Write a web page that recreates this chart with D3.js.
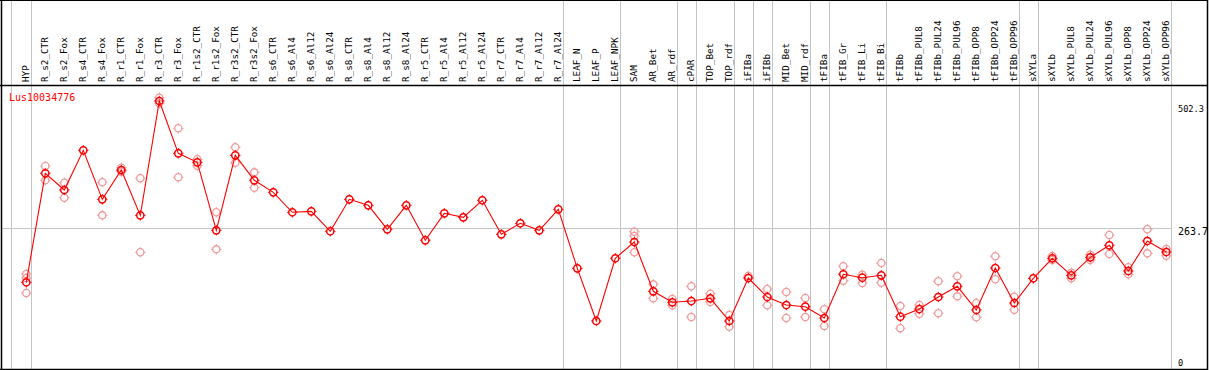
<!DOCTYPE html>
<html><head><meta charset="utf-8">
<script src="https://cdn.jsdelivr.net/npm/d3@7"></script>
<style>body{margin:0;background:#fff}svg{display:block}</style>
</head><body>
<svg id="c" width="1209" height="370"></svg>
<script>
const geneName = "Lus10034776";
const categories = ["HYP","R_s2_CTR","R_s2_Fox","R_s4_CTR","R_s4_Fox","R_r1_CTR","R_r1_Fox","R_r3_CTR","R_r3_Fox","R_r1s2_CTR","R_r1s2_Fox","R_r3s2_CTR","R_r3s2_Fox","R_s6_CTR","R_s6_Al4","R_s6_Al12","R_s6_Al24","R_s8_CTR","R_s8_Al4","R_s8_Al12","R_s8_Al24","R_r5_CTR","R_r5_Al4","R_r5_Al12","R_r5_Al24","R_r7_CTR","R_r7_Al4","R_r7_Al12","R_r7_Al24","LEAF_N","LEAF_P","LEAF_NPK","SAM","AR_Bet","AR_rdf","cPAR","TOP_Bet","TOP_rdf","iFIBa","iFIBb","MID_Bet","MID_rdf","tFIBa","tFIB_Gr","tFIB_Li","tFIB_Bi","tFIBb","tFIBb_PUL8","tFIBb_PUL24","tFIBb_PUL96","tFIBb_OPP8","tFIBb_OPP24","tFIBb_OPP96","sXYLa","sXYLb","sXYLb_PUL8","sXYLb_PUL24","sXYLb_PUL96","sXYLb_OPP8","sXYLb_OPP24","sXYLb_OPP96"];
const means = [162.5,366.8,335.5,409.9,318.0,372.9,288.0,502.3,404.2,387.4,259.9,400.5,353.6,331.1,293.7,295.5,258.1,318.0,306.8,261.8,306.8,241.2,291.8,284.3,316.2,252.4,273.1,259.9,299.3,188.7,90.0,207.5,238.0,145.6,125.0,127.4,132.5,90.0,170.5,134.9,119.9,116.8,95.6,177.5,171.1,175.6,98.0,112.4,134.9,155.0,110.6,189.3,123.7,170.0,207.5,175.6,209.3,231.8,183.7,239.9,219.3];
const replicates = [
 [178.0,170.5,142.4],[380.4,353.6],[349.1,321.0],[],[349.9,288.0],[377.2,369.8],[357.4,218.7],[508.4,497.9],[451.1,359.3],[393.0,381.0],[293.7,224.3],[415.5,386.6],[368.6,339.8],
 [],[],[],[],[],[],[],[],[],[],[],[],[],[],[],[],[],[],[],
 [257.3,249.3,218.7],[158.7,132.5],[131.2,119.4],[155.0,97.5],[141.1,125.6],[101.2,79.3],[174.3],[149.9,119.4],[144.3,95.6],[133.1,97.5],[111.9,80.6],[192.5,165.5],[176.7,161.2],[198.7,161.7],
 [118.1,76.3],[119.9,103.6],[164.4,104.4],[173.7,136.2],[123.7,96.9],[211.2,168.1],[135.5,111.1],[],[211.8,204.3],[180.5,170.0],[214.2,204.3],[251.1,215.5],[190.6,177.5],[261.8,216.8],[224.9,212.3]
];
const groupEnds = ["HYP","R_r7_Al24","LEAF_NPK","AR_rdf","cPAR","TOP_rdf","iFIBa","iFIBb","MID_rdf","tFIBa","tFIB_Bi","tFIBb_OPP96","sXYLa","sXYLb_OPP96"];
const yTicks = [502.3, 263.7, 0];

const svg = d3.select("#c");
const W = 1209, H = 370, headerY = 85, bottom = 369;
const x = d3.scalePoint().domain(categories).range([26.3, 1166.3]);
const y = d3.scaleLinear().domain([0, 502.3]).range([bottom, 101]);

// group separators
const seps = [x(categories[0]) - 15.8].concat(groupEnds.map(c => x(c) + 4.4));
svg.selectAll("line.sep").data(seps).enter().append("line")
  .attr("x1", d => Math.round(d) + 0.5).attr("x2", d => Math.round(d) + 0.5)
  .attr("y1", 0).attr("y2", H).attr("stroke", "#c4c4c4").attr("stroke-width", 1);

// horizontal gridline at middle tick
svg.append("line").attr("x1", 1).attr("x2", 1171)
  .attr("y1", Math.round(y(yTicks[1])) + 0.5).attr("y2", Math.round(y(yTicks[1])) + 0.5)
  .attr("stroke", "#c4c4c4");

// frame
svg.append("line").attr("x1", 0).attr("x2", 1208).attr("y1", 0.5).attr("y2", 0.5).attr("stroke", "#000");
svg.append("line").attr("x1", 0).attr("x2", 1208).attr("y1", headerY + 0.5).attr("y2", headerY + 0.5).attr("stroke", "#000").attr("stroke-width", 1.5);
svg.append("line").attr("x1", 1.5).attr("x2", 1.5).attr("y1", 0).attr("y2", H).attr("stroke", "#000").attr("stroke-width", 1.5);
svg.append("line").attr("x1", 1207.5).attr("x2", 1207.5).attr("y1", 0).attr("y2", H).attr("stroke", "#000").attr("stroke-width", 1.5);
svg.append("line").attr("x1", 0).attr("x2", 1208).attr("y1", bottom + 0.5).attr("y2", bottom + 0.5).attr("stroke", "#000").attr("stroke-width", 1.5);

// header labels
svg.selectAll("text.cat").data(categories).enter().append("text")
  .attr("transform", d => `translate(${x(d) + 2.3},82) rotate(-90)`)
  .attr("font-family", "DejaVu Sans Mono, monospace").attr("font-size", "9.3px")
  .attr("fill", "#000").text(d => d);

// gene name
svg.append("text").attr("x", 9).attr("y", 101).attr("fill", "#ff0000")
  .attr("font-family", "DejaVu Sans Mono, monospace").attr("font-size", "10px").text(geneName);

// y tick labels
const tickFont = {502.3: 8.6, 263.7: 10, 0: 8.6};
const tickBase = {502.3: 111.5, 263.7: 235, 0: 366};
svg.selectAll("text.tick").data(yTicks).enter().append("text")
  .attr("x", 1178).attr("y", d => tickBase[d])
  .attr("font-family", "DejaVu Sans Mono, monospace").attr("font-size", d => tickFont[d] + "px")
  .attr("fill", "#000").text(d => d === 0 ? "0" : d.toFixed(1));

// marker helper
function marker(g, cx, cy, color, sw) {
  g.append("circle").attr("cx", cx).attr("cy", cy).attr("r", 3.6)
    .attr("fill", "none").attr("stroke", color).attr("stroke-width", sw);
  const t = [[0,-1],[0,1],[-1,0],[1,0]];
  t.forEach(([dx, dy]) => {
    g.append("line").attr("x1", cx + dx * 3.6).attr("y1", cy + dy * 3.6)
      .attr("x2", cx + dx * 5.2).attr("y2", cy + dy * 5.2)
      .attr("stroke", color).attr("stroke-width", 1);
  });
}

// replicates
const repG = svg.append("g");
categories.forEach((c, i) => {
  replicates[i].forEach(v => marker(repG, x(c), y(v), "#f09a9a", 1.3));
});

// mean line
svg.append("path").datum(means)
  .attr("d", d3.line().x((d, i) => x(categories[i])).y(d => y(d)))
  .attr("fill", "none").attr("stroke", "#ff0000").attr("stroke-width", 1.1);

const meanG = svg.append("g");
categories.forEach((c, i) => marker(meanG, x(c), y(means[i]), "#ff0000", 1.5));
</script>
</body></html>
